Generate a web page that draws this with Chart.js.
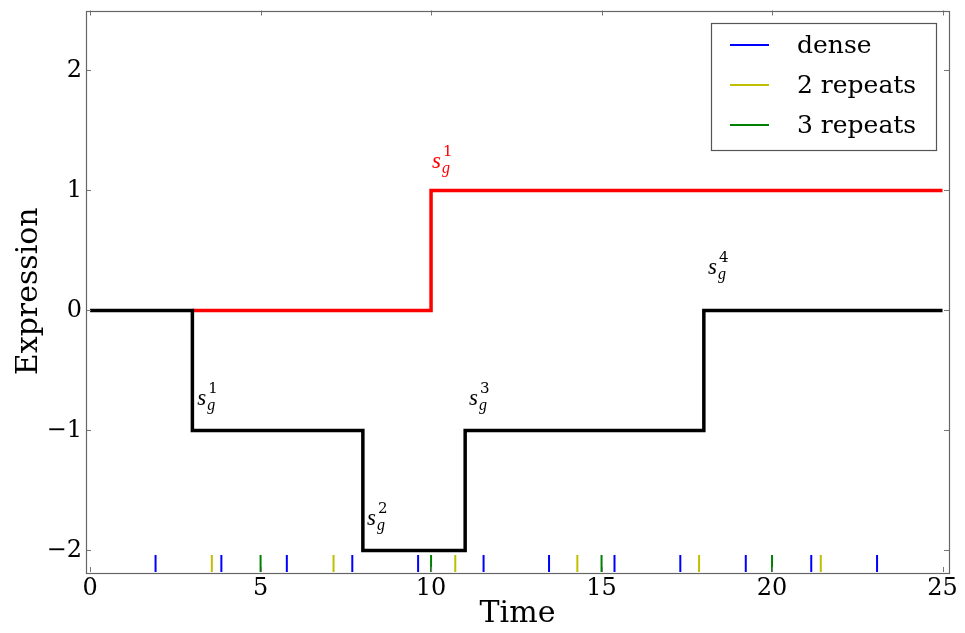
<!DOCTYPE html>
<html>
<head>
<meta charset="utf-8">
<script src="https://cdn.jsdelivr.net/npm/chart.js@4"></script>
<style>
  html, body { margin: 0; padding: 0; background: #fff; }
  #wrap { width: 965px; height: 633px; }
</style>
</head>
<body>
<div id="wrap"><canvas id="c" width="965" height="633"></canvas></div>
<script>
// ---- data ----
const blackTimes = [0, 3, 8, 11, 18, 25];
const blackValues = [0, -1, -2, -1, 0, 0];
const redTimes = [3, 10, 25];
const redValues = [0, 1, 1];

const denseTimes = [1.92, 3.85, 5.77, 7.69, 9.62, 11.54, 13.46, 15.38, 17.31, 19.23, 21.15, 23.08];
const twoRepeatTimes = [3.57, 7.14, 10.71, 14.29, 17.86, 21.43];
const threeRepeatTimes = [5, 10, 15, 20];
const eventLevel = -2.11;

const seriesLabels = ['dense', '2 repeats', '3 repeats'];
const xTicks = [0, 5, 10, 15, 20, 25];
const yTicks = [-2, -1, 0, 1, 2];

// annotation labels: superscript index, anchor time, anchor value, colour
const annIndex = ['1', '1', '2', '3', '4'];
const annTime = [10.03, 3.14, 8.12, 11.11, 18.12];
const annValue = [1.185, -0.79, -1.79, -0.79, 0.30];
const annColor = ['#ff0000', '#000000', '#000000', '#000000', '#000000'];

const toXY = (xs, ys) => xs.map((x, i) => ({ x: x, y: ys[i] }));
const events = (xs) => xs.map(x => ({ x: x, y: eventLevel }));

const SERIF = '"DejaVu Serif", serif';

const eventColors = ['#0000ff', '#bfbf00', '#008000'];

const eventDs = (label, xs, color) => ({
  label: label,
  data: events(xs),
  showLine: false,
  pointStyle: 'line',
  rotation: 90,
  pointRadius: 8.5,
  pointHoverRadius: 8.5,
  borderWidth: 2,
  borderColor: color,
  backgroundColor: color,
  isEvent: true
});

const framePlugin = {
  id: 'frame',
  afterDraw(chart) {
    const ctx = chart.ctx;
    const a = chart.chartArea;
    const xs = chart.scales.x, ys = chart.scales.y;
    ctx.save();
    // inward ticks
    ctx.strokeStyle = '#777';
    ctx.lineWidth = 1;
    const tl = 5;
    xTicks.forEach(v => {
      const px = Math.round(xs.getPixelForValue(v)) + 0.5;
      ctx.beginPath();
      ctx.moveTo(px, a.bottom); ctx.lineTo(px, a.bottom - tl);
      ctx.moveTo(px, a.top); ctx.lineTo(px, a.top + tl);
      ctx.stroke();
    });
    yTicks.forEach(v => {
      const py = Math.round(ys.getPixelForValue(v)) + 0.5;
      ctx.beginPath();
      ctx.moveTo(a.left, py); ctx.lineTo(a.left + tl, py);
      ctx.moveTo(a.right, py); ctx.lineTo(a.right - tl, py);
      ctx.stroke();
    });
    // frame
    ctx.strokeStyle = '#666';
    ctx.lineWidth = 1.2;
    ctx.strokeRect(Math.round(a.left) + 0.5, Math.round(a.top) + 0.5,
                   Math.round(a.right - a.left), Math.round(a.bottom - a.top));

    // annotations s_g^n
    for (let i = 0; i < annIndex.length; i++) {
      const px = xs.getPixelForValue(annTime[i]);
      const py = ys.getPixelForValue(annValue[i]);
      ctx.fillStyle = annColor[i];
      ctx.textBaseline = 'alphabetic';
      ctx.textAlign = 'left';
      ctx.font = 'italic 23px "Liberation Serif", serif';
      ctx.fillText('s', px, py);
      ctx.font = 'italic 16px "Liberation Serif", serif';
      ctx.fillText('g', px + 10, py + 5);
      ctx.font = '15px "DejaVu Serif", serif';
      ctx.fillText(annIndex[i], px + 11, py - 12);
    }

    // legend
    const bx = 711.5, by = 23.5, bw = 225, bh = 127;
    ctx.fillStyle = '#fff';
    ctx.fillRect(bx, by, bw, bh);
    ctx.strokeStyle = '#555';
    ctx.lineWidth = 1.2;
    ctx.strokeRect(bx, by, bw, bh);
    const evs = chart.data.datasets.filter(d => d.isEvent);
    evs.forEach((d, i) => {
      const yy = 45 + i * 40;
      ctx.strokeStyle = d.borderColor;
      ctx.lineWidth = 2;
      ctx.beginPath();
      ctx.moveTo(730, yy); ctx.lineTo(769, yy);
      ctx.stroke();
      ctx.fillStyle = '#000';
      ctx.font = '25px ' + SERIF;
      ctx.textBaseline = 'middle';
      ctx.fillText(d.label, 797, yy + 1);
    });
    ctx.restore();
  }
};

new Chart(document.getElementById('c'), {
  type: 'scatter',
  data: {
    datasets: [
      { label: 'black', data: toXY(blackTimes, blackValues), showLine: true, stepped: 'before',
        borderColor: '#000', borderWidth: 3.5, pointRadius: 0, fill: false },
      { label: 'red', data: toXY(redTimes, redValues), showLine: true, stepped: 'before',
        borderColor: '#ff0000', borderWidth: 3.5, pointRadius: 0, fill: false },
      eventDs(seriesLabels[0], denseTimes, eventColors[0]),
      eventDs(seriesLabels[1], twoRepeatTimes, eventColors[1]),
      eventDs(seriesLabels[2], threeRepeatTimes, eventColors[2])
    ]
  },
  options: {
    responsive: false,
    animation: false,
    layout: { padding: { left: 0, top: 8, right: 16, bottom: 0 } },
    plugins: { legend: { display: false }, tooltip: { enabled: false } },
    scales: {
      x: {
        type: 'linear', min: -0.12, max: 25.19,
        afterFit(s) { s.height = 61; s.paddingLeft = 0; s.paddingRight = 0; },
        afterBuildTicks(s) { s.ticks = xTicks.map(v => ({ value: v })); },
        grid: { display: false, drawTicks: false },
        border: { display: false },
        ticks: { color: '#000', padding: 2, font: { family: SERIF, size: 24 }, maxRotation: 0,
                 callback: v => String(v) },
        title: { display: true, text: 'Time', color: '#000',
                 font: { family: SERIF, size: 30 }, padding: { top: 0, bottom: 1 } }
      },
      y: {
        type: 'linear', min: -2.18, max: 2.5,
        afterFit(s) { s.width = 86; s.paddingTop = 0; s.paddingBottom = 0; },
        afterBuildTicks(s) { s.ticks = yTicks.map(v => ({ value: v })); },
        grid: { display: false, drawTicks: false },
        border: { display: false },
        ticks: { color: '#000', padding: 4, font: { family: SERIF, size: 24 },
                 callback: v => (v < 0 ? '\u2212' + Math.abs(v) : String(v)) },
        title: { display: true, text: 'Expression', color: '#000',
                 font: { family: SERIF, size: 30 }, padding: { top: 11, bottom: 0 } }
      }
    }
  },
  plugins: [framePlugin]
});
</script>
</body>
</html>
